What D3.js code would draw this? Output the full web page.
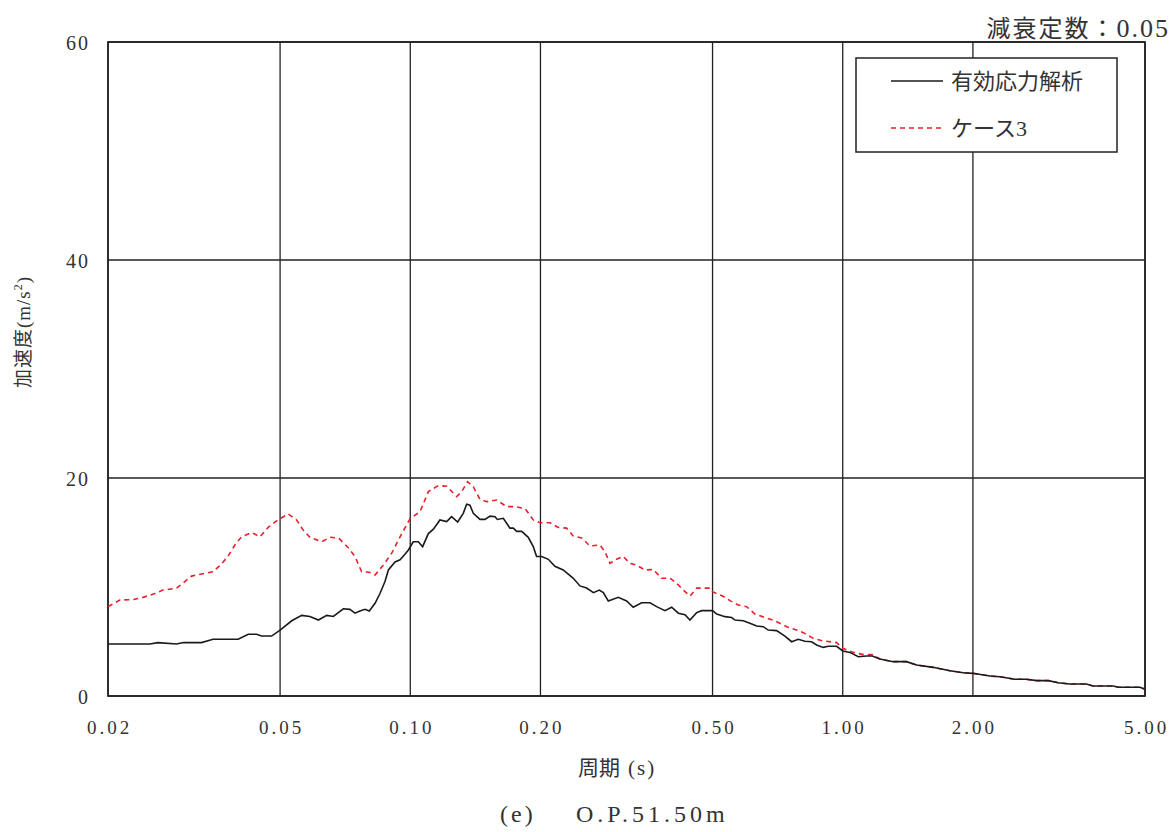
<!DOCTYPE html>
<html><head><meta charset="utf-8">
<script src="https://cdn.jsdelivr.net/npm/d3@7"></script>
<style>
body{margin:0;background:#fff;}
text{font-family:"Liberation Serif","Noto Sans CJK JP",serif;fill:#333;}
</style></head>
<body><svg id="c" width="1175" height="832"></svg>
<script>
const xTicks=[0.02,0.05,0.10,0.20,0.50,1.00,2.00,5.00];
const xTickLabels=["0.02","0.05","0.10","0.20","0.50","1.00","2.00","5.00"];
const yTicks=[0,20,40,60];
const seriesNames=["有効応力解析","ケース3"];
const blackT=[0.02,0.025,0.0261,0.0288,0.0299,0.0329,0.035,0.04,0.0422,0.0441,0.0453,0.0478,0.05,0.0532,0.0561,0.0586,0.0613,0.0641,0.0664,0.07,0.0725,0.0745,0.0765,0.0786,0.0804,0.0829,0.0851,0.0874,0.089,0.0922,0.0947,0.0972,0.099,0.1016,0.1044,0.1068,0.1101,0.1131,0.1171,0.1214,0.1246,0.1287,0.1326,0.135,0.1374,0.1399,0.1449,0.1488,0.1529,0.157,0.159,0.1641,0.17,0.1731,0.1762,0.181,0.1874,0.1925,0.1959,0.2013,0.2086,0.216,0.2258,0.2382,0.2468,0.2558,0.2651,0.2736,0.2795,0.287,0.3027,0.3164,0.3278,0.3428,0.3584,0.3712,0.3882,0.4022,0.4168,0.4318,0.4434,0.4594,0.4718,0.5,0.5112,0.5344,0.5536,0.5634,0.5888,0.61,0.6324,0.655,0.6726,0.7032,0.735,0.7618,0.7892,0.8178,0.8472,0.8702,0.9014,0.9258,0.968,1.0,1.039,1.086,1.136,1.171,1.219,1.308,1.404,1.482,1.619,1.77,1.9,2.0,2.19,2.31,2.5,2.66,2.81,2.99,3.15,3.35,3.66,3.79,4.22,4.34,4.87,5.0];
const blackA=[4.77,4.77,4.9,4.77,4.9,4.9,5.2,5.2,5.66,5.66,5.5,5.5,6.05,6.9,7.4,7.3,6.97,7.4,7.3,8.0,7.95,7.6,7.8,7.95,7.8,8.5,9.4,10.5,11.56,12.3,12.5,13.0,13.4,14.15,14.15,13.7,14.9,15.3,16.15,16.0,16.45,15.96,16.76,17.6,17.5,16.76,16.2,16.2,16.5,16.45,16.2,16.3,15.4,15.4,15.1,15.1,14.56,13.7,12.8,12.8,12.54,11.9,11.56,10.8,10.1,9.9,9.48,9.72,9.48,8.72,9.05,8.72,8.14,8.56,8.56,8.2,7.83,8.14,7.6,7.45,6.97,7.65,7.83,7.83,7.52,7.28,7.2,6.97,6.9,6.67,6.42,6.36,6.05,6.0,5.5,4.98,5.2,5.03,4.98,4.68,4.46,4.56,4.56,4.13,4.0,3.6,3.67,3.67,3.39,3.15,3.15,2.84,2.63,2.32,2.14,2.08,1.83,1.77,1.53,1.53,1.41,1.41,1.22,1.1,1.1,0.92,0.92,0.8,0.8,0.61];
const redT=[0.02,0.0213,0.0229,0.0241,0.0255,0.0268,0.0288,0.0299,0.0312,0.0329,0.035,0.0366,0.038,0.0393,0.0407,0.043,0.0449,0.047,0.0494,0.0522,0.0546,0.0566,0.0586,0.0624,0.0652,0.0682,0.0719,0.0745,0.0772,0.0804,0.0829,0.0866,0.0906,0.0947,0.1,0.1053,0.1101,0.1161,0.1214,0.128,0.1315,0.1357,0.1399,0.1449,0.1502,0.1584,0.167,0.1746,0.1842,0.1925,0.1995,0.2104,0.2199,0.2299,0.2382,0.249,0.2604,0.2746,0.282,0.2896,0.3,0.3108,0.322,0.3338,0.3488,0.3648,0.3812,0.3986,0.413,0.428,0.4434,0.4594,0.4932,0.5,0.5314,0.5486,0.5734,0.5994,0.6266,0.6608,0.697,0.7418,0.7824,0.8104,0.8546,0.9014,0.968,1.0,1.058,1.115,1.171,1.219,1.308,1.404,1.482,1.619,1.77,1.9,2.0,2.19,2.31,2.5,2.66,2.81,2.99,3.15,3.35,3.66,3.79,4.22,4.34,4.87,5.0];
const redA=[8.2,8.8,8.85,9.05,9.36,9.72,9.88,10.4,11.0,11.2,11.4,12.1,12.9,13.85,14.6,15.0,14.6,15.5,16.15,16.7,16.15,15.2,14.56,14.15,14.56,14.5,13.6,12.8,11.4,11.35,11.1,12.0,13.1,14.6,16.3,16.9,18.75,19.3,19.25,18.3,18.75,19.66,19.2,18.04,17.83,17.98,17.37,17.37,17.2,16.15,15.9,15.9,15.47,15.4,14.68,14.5,13.76,13.85,13.24,12.17,12.54,12.8,12.17,12.0,11.56,11.6,10.8,10.8,10.34,9.72,9.17,9.9,9.9,9.57,9.1,8.75,8.35,8.2,7.52,7.2,6.9,6.36,6.05,5.81,5.29,5.05,4.9,4.37,4.0,3.8,3.8,3.39,3.15,3.15,2.84,2.63,2.32,2.14,2.08,1.83,1.77,1.53,1.53,1.41,1.41,1.22,1.1,1.1,0.92,0.92,0.8,0.8,0.61];

const svg=d3.select("#c");
const L=108,R=1145,T=42,B=696;
const x=d3.scaleLog().domain([0.02,5]).range([L,R]);
const y=d3.scaleLinear().domain([0,60]).range([B,T]);

// grid
const g=svg.append("g");
g.selectAll("line.v").data(xTicks).join("line")
 .attr("x1",d=>x(d)).attr("x2",d=>x(d)).attr("y1",T).attr("y2",B)
 .attr("stroke","#222").attr("stroke-width",1.3);
g.selectAll("line.h").data(yTicks).join("line")
 .attr("y1",d=>y(d)).attr("y2",d=>y(d)).attr("x1",L).attr("x2",R)
 .attr("stroke","#222").attr("stroke-width",1.3);
svg.append("rect").attr("x",L).attr("y",T).attr("width",R-L).attr("height",B-T)
 .attr("fill","none").attr("stroke","#222").attr("stroke-width",1.7);

// axes labels
const xa=d3.axisBottom(x).tickValues(xTicks).tickFormat((d,i)=>xTickLabels[i]).tickSize(0).tickPadding(0);
const xg=svg.append("g").attr("transform",`translate(0,${B})`).call(xa);
xg.select(".domain").remove();
xg.selectAll("text").attr("dy",0).attr("y",38).attr("dx","1px").style("font-size","19px").style("letter-spacing","3px").attr("fill","#333");
const ya=d3.axisLeft(y).tickValues(yTicks).tickSize(0).tickPadding(0);
const yg=svg.append("g").call(ya);
yg.select(".domain").remove();
yg.selectAll("text").attr("x",90).attr("dy","0.35em").style("font-size","20px").style("letter-spacing","2px").attr("fill","#333");

// lines
const toPts=(ts,as)=>ts.map((t,i)=>[t,as[i]]);
const line=d3.line().x(d=>x(d[0])).y(d=>y(d[1]));
svg.append("path").datum(toPts(redT,redA)).attr("d",line).attr("fill","none")
 .attr("stroke","#e8202a").attr("stroke-width",1.6).attr("stroke-dasharray","5,4");
svg.append("path").datum(toPts(blackT,blackA)).attr("d",line).attr("fill","none")
 .attr("stroke","#1a1a1a").attr("stroke-width",1.6);

// legend
const lg=svg.append("g");
lg.append("rect").attr("x",856).attr("y",58).attr("width",261).attr("height",94)
 .attr("fill","#fff").attr("stroke","#222").attr("stroke-width",1.5);
lg.append("line").attr("x1",891).attr("x2",943).attr("y1",81).attr("y2",81).attr("stroke","#1a1a1a").attr("stroke-width",1.6);
lg.append("line").attr("x1",891).attr("x2",943).attr("y1",128).attr("y2",128).attr("stroke","#e8202a").attr("stroke-width",1.6).attr("stroke-dasharray","5,4");
lg.append("text").attr("x",951).attr("y",89).style("font-size","22px").text(seriesNames[0]);
lg.append("text").attr("x",951).attr("y",136).style("font-size","22px").text(seriesNames[1]);

// titles
svg.append("text").attr("x",1170).attr("y",37).attr("text-anchor","end").style("font-size","24px").style("letter-spacing","2px").html('減衰定数：<tspan font-size="26">0.05</tspan>');
svg.append("text").attr("transform","translate(30,332) rotate(-90)").attr("text-anchor","middle").style("font-size","19px").style("letter-spacing","1px").html('加速度(m/s<tspan dy="-8" font-size="12">2</tspan><tspan dy="8">)</tspan>');
svg.append("text").attr("x",578).attr("y",775).style("font-size","21px").text("周期");
svg.append("text").attr("x",628).attr("y",775).style("font-size","21px").style("letter-spacing","2px").text("(s)");
svg.append("text").attr("x",500).attr("y",822).style("font-size","24px").style("letter-spacing","3px").text("(e)");
svg.append("text").attr("x",576).attr("y",822).style("font-size","24px").style("letter-spacing","4px").text("O.P.51.50m");
</script></body></html>
